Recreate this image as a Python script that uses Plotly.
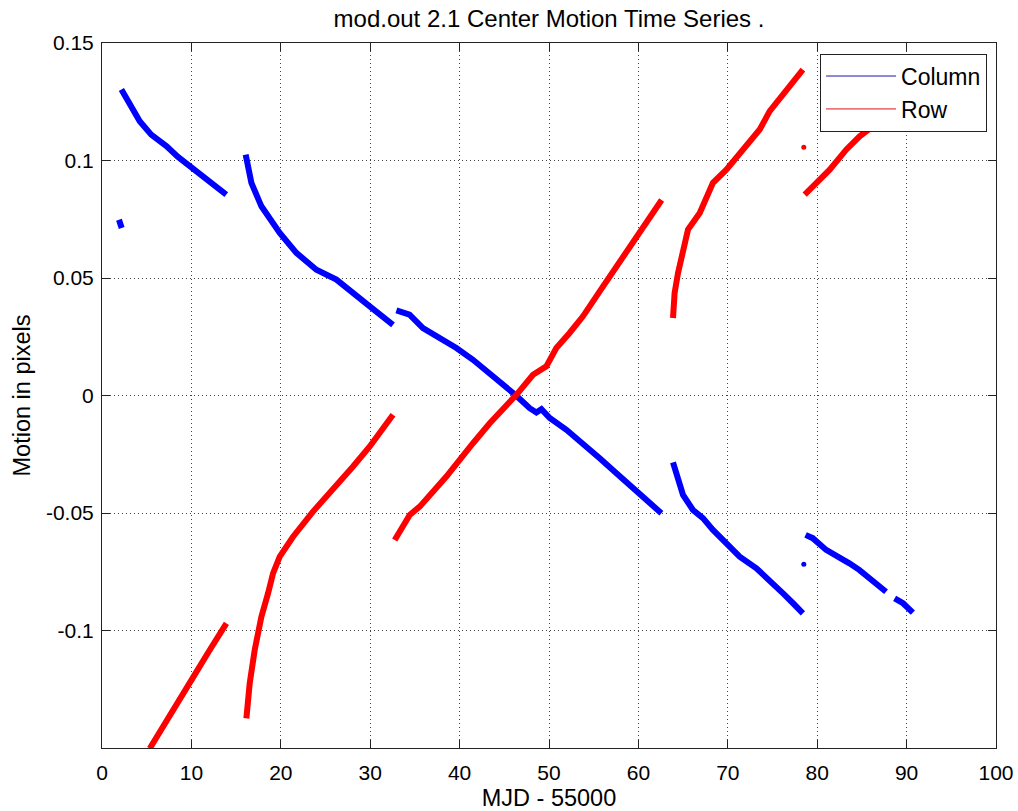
import plotly.graph_objects as go

# Column motion (blue) segments: x = MJD - 55000, y = motion in pixels
col_seg0_x = [1.9, 2.0, 2.1, 2.2]
col_seg0_y = [0.0748, 0.0735, 0.0722, 0.0713]
col_seg1_x = [2.17, 3.0, 4.22, 5.5, 7.2, 8.5, 9.81, 11.68, 12.8, 13.9]
col_seg1_y = [0.1302, 0.1250, 0.1167, 0.1110, 0.1061, 0.1015, 0.0976, 0.0919, 0.0890, 0.0855]
col_seg2_x = [16.07, 16.71, 17.83, 19.88, 21.74, 23.98, 26.22, 28.46, 29.95, 32.55]
col_seg2_y = [0.1025, 0.0905, 0.0805, 0.0692, 0.0607, 0.0535, 0.0493, 0.0422, 0.0379, 0.0301]
col_seg3_x = [32.93, 34.4, 35.9, 37.77, 39.64, 41.5, 43.37, 44.85, 46.35, 47.84, 48.59, 49.15,
              50.08, 51.95, 53.8, 55.67, 57.54, 59.4, 60.9, 62.57]
col_seg3_y = [0.0362, 0.0344, 0.0287, 0.0245, 0.0202, 0.0152, 0.0095, 0.0046, -0.0001, -0.0054,
              -0.0072, -0.0058, -0.0096, -0.0146, -0.0203, -0.0267, -0.0331, -0.0394, -0.0437, -0.0501]
col_seg4_x = [63.87, 64.43, 64.99, 66.1, 67.22, 68.34, 69.84, 71.33, 73.2, 74.69, 76.18, 77.3, 78.4]
col_seg4_y = [-0.0285, -0.0345, -0.0423, -0.0487, -0.0522, -0.0572, -0.0629, -0.0686, -0.0735,
              -0.0785, -0.0842, -0.0884, -0.0927]
col_dot_x = [78.5]
col_dot_y = [-0.0718]
col_seg5_x = [78.7, 79.5, 81.0, 82.5, 83.6, 84.7, 86.2, 87.7]
col_seg5_y = [-0.0593, -0.0607, -0.0657, -0.0686, -0.0714, -0.0742, -0.0785, -0.0835]
col_seg6_x = [88.66, 89.6, 90.7]
col_seg6_y = [-0.0863, -0.0884, -0.0924]

# Row motion (red) segments
row_seg1_x = [5.34, 7.57, 10.0, 12.05, 13.92]
row_seg1_y = [-0.1502, -0.1367, -0.1211, -0.1083, -0.0970]
row_seg2_x = [16.15, 16.52, 17.08, 17.83, 18.57, 19.13, 19.88, 21.37, 23.6, 25.84, 28.08, 29.95, 32.55]
row_seg2_y = [-0.1374, -0.1225, -0.1083, -0.0941, -0.0842, -0.0757, -0.0686, -0.0601, -0.0494,
              -0.0402, -0.0302, -0.0217, -0.0082]
row_seg3_x = [32.74, 34.42, 35.54, 38.52, 41.5, 43.37, 46.35, 48.21, 49.7, 50.82, 52.3, 53.8,
              55.67, 58.5, 61.0, 62.6]
row_seg3_y = [-0.0615, -0.0508, -0.0473, -0.0345, -0.0203, -0.0118, 0.0003, 0.0088, 0.0124,
              0.0202, 0.0266, 0.0337, 0.0443, 0.0600, 0.0740, 0.0832]
row_seg4_x = [63.87, 64.05, 64.43, 64.99, 65.55, 66.86, 68.34, 69.84, 71.33, 73.57, 74.69, 76.55, 78.4]
row_seg4_y = [0.0330, 0.0436, 0.0521, 0.0621, 0.0706, 0.0777, 0.0905, 0.0961, 0.1033, 0.1132,
              0.1210, 0.1295, 0.1387]
row_dot_x = [78.5]
row_dot_y = [0.1056]
row_seg5_x = [78.6, 79.9, 81.4, 83.27, 84.75, 86.25, 87.37, 89.0, 90.8]
row_seg5_y = [0.0855, 0.0905, 0.0961, 0.1047, 0.1103, 0.1146, 0.1175, 0.1225, 0.1280]

x_ticks = [0, 10, 20, 30, 40, 50, 60, 70, 80, 90, 100]
y_ticks = [-0.1, -0.05, 0, 0.05, 0.1, 0.15]
y_tick_text = ["-0.1", "-0.05", "0", "0.05", "0.1", "0.15"]

BLUE = "#0000ff"
RED = "#ff0000"
FONT = "Liberation Sans, Arial, sans-serif"


def join(segs):
    xs, ys = [], []
    for sx, sy in segs:
        xs += list(sx) + [None]
        ys += list(sy) + [None]
    return xs, ys


fig = go.Figure()

cx, cy = join([(col_seg0_x, col_seg0_y), (col_seg1_x, col_seg1_y), (col_seg2_x, col_seg2_y),
               (col_seg3_x, col_seg3_y), (col_seg4_x, col_seg4_y), (col_seg5_x, col_seg5_y),
               (col_seg6_x, col_seg6_y)])
rx, ry = join([(row_seg1_x, row_seg1_y), (row_seg2_x, row_seg2_y), (row_seg3_x, row_seg3_y),
               (row_seg4_x, row_seg4_y), (row_seg5_x, row_seg5_y)])

fig.add_trace(go.Scatter(x=cx, y=cy, mode="lines", line=dict(color=BLUE, width=6),
                         showlegend=False, hoverinfo="skip"))
fig.add_trace(go.Scatter(x=col_dot_x, y=col_dot_y, mode="markers",
                         marker=dict(color=BLUE, size=5), showlegend=False))
fig.add_trace(go.Scatter(x=rx, y=ry, mode="lines", line=dict(color=RED, width=6),
                         showlegend=False, hoverinfo="skip"))
fig.add_trace(go.Scatter(x=row_dot_x, y=row_dot_y, mode="markers",
                         marker=dict(color=RED, size=5), showlegend=False))

# legend entries (thin lines, as in the reference)
fig.add_trace(go.Scatter(x=[None], y=[None], mode="lines", name="Column",
                         line=dict(color="#1a1aa0", width=1)))
fig.add_trace(go.Scatter(x=[None], y=[None], mode="lines", name="Row",
                         line=dict(color="#e01010", width=1)))

axis_common = dict(
    showline=True, linecolor="#222222", linewidth=1, mirror="ticks",
    ticks="inside", ticklen=8, tickcolor="#222222",
    showgrid=True, gridcolor="#444444", griddash="1px,3px", gridwidth=1,
    zeroline=False, tickfont=dict(family=FONT, size=21, color="black"),
    automargin=False,
)

fig.update_layout(
    width=1018, height=811,
    paper_bgcolor="white", plot_bgcolor="white",
    margin=dict(l=102, r=22, t=43, b=63, autoexpand=False),
    title=dict(text="mod.out 2.1 Center Motion Time Series .", x=0.5, xanchor="center",
               xref="paper", y=0.977, yanchor="middle",
               font=dict(family=FONT, size=24, color="black")),
    xaxis=dict(range=[0, 100], tickvals=x_ticks, ticklabelstandoff=6,
               title=dict(text="MJD - 55000", font=dict(family=FONT, size=23.5, color="black"),
                          standoff=8),
               **axis_common),
    yaxis=dict(range=[-0.15, 0.15], tickvals=y_ticks, ticktext=y_tick_text, ticklabelstandoff=3,
               title=dict(text="Motion in pixels", font=dict(family=FONT, size=23.5, color="black"),
                          standoff=8),
               **axis_common),
    legend=dict(x=0.99, y=0.985, xanchor="right", yanchor="top",
                bgcolor="white", bordercolor="#222222", borderwidth=1,
                font=dict(family=FONT, size=23, color="black"),
                tracegroupgap=0, itemwidth=70),
    showlegend=True,
)

fig.write_html("out.html", post_script="document.body.style.margin='0px';",
               config={"displayModeBar": False})
